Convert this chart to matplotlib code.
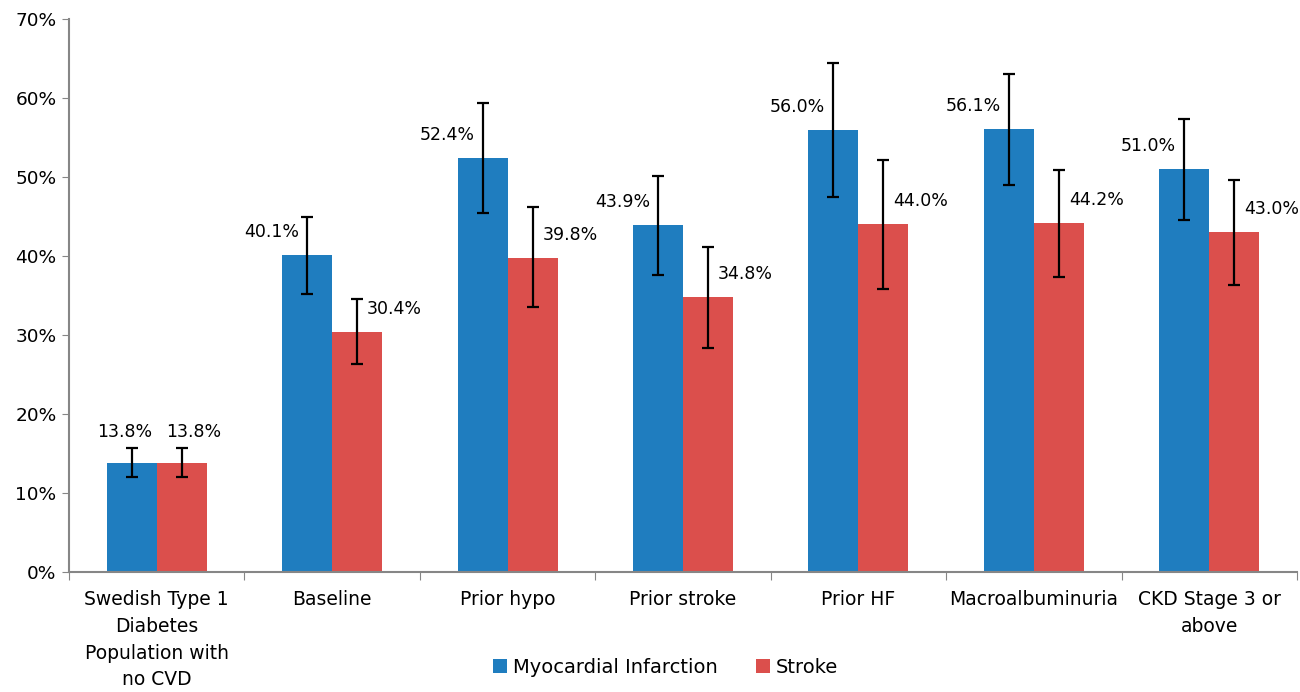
import matplotlib
matplotlib.use("Agg")
import matplotlib.pyplot as plt
import numpy as np
from matplotlib.ticker import FixedLocator, PercentFormatter

categories = ["Swedish Type 1\nDiabetes\nPopulation with\nno CVD", "Baseline", "Prior hypo",
              "Prior stroke", "Prior HF", "Macroalbuminuria", "CKD Stage 3 or\nabove"]
mi = [13.8, 40.1, 52.4, 43.9, 56.0, 56.1, 51.0]
mi_low = [12.0, 35.2, 45.4, 37.6, 47.5, 49.0, 44.5]
mi_high = [15.7, 44.9, 59.4, 50.1, 64.4, 63.0, 57.4]
stroke = [13.8, 30.4, 39.8, 34.8, 44.0, 44.2, 43.0]
stroke_low = [12.0, 26.3, 33.5, 28.3, 35.8, 37.4, 36.3]
stroke_high = [15.7, 34.6, 46.2, 41.2, 52.2, 50.9, 49.6]
series_names = ["Myocardial Infarction", "Stroke"]
yticks = [0, 10, 20, 30, 40, 50, 60, 70]

BLUE = "#1f7dbf"
RED = "#db4f4c"
GRAY = "#868686"

plt.rcParams['font.family'] = ['DejaVu Sans']

fig = plt.figure(figsize=(13, 6.92), dpi=100)
ax = fig.add_axes([0.053, 0.1734, 0.9447, 0.7991])

n = len(categories)
x = np.arange(n)
w = 0.285

mi_err = [np.array(mi) - np.array(mi_low), np.array(mi_high) - np.array(mi)]
st_err = [np.array(stroke) - np.array(stroke_low), np.array(stroke_high) - np.array(stroke)]

ax.bar(x - w / 2, mi, w, color=BLUE, label=series_names[0], zorder=2)
ax.bar(x + w / 2, stroke, w, color=RED, label=series_names[1], zorder=2)
ax.errorbar(x - w / 2, mi, yerr=mi_err, fmt='none', ecolor='black', elinewidth=1.6,
            capsize=4.0, capthick=1.6, zorder=3)
ax.errorbar(x + w / 2, stroke, yerr=st_err, fmt='none', ecolor='black', elinewidth=1.6,
            capsize=4.0, capthick=1.6, zorder=3)

fs_val = 12.5
for i in range(n):
    if i == 0:
        ax.annotate(f"{mi[i]:.1f}%", (x[i] - w / 2, mi[i]), xytext=(-7, 31),
                    textcoords='offset pixels', ha='center', va='center', fontsize=fs_val)
        ax.annotate(f"{stroke[i]:.1f}%", (x[i] + w / 2, stroke[i]), xytext=(12, 31),
                    textcoords='offset pixels', ha='center', va='center', fontsize=fs_val)
    else:
        ax.annotate(f"{mi[i]:.1f}%", (x[i] - w / 2, mi[i]), xytext=(-8, 23),
                    textcoords='offset pixels', ha='right', va='center', fontsize=fs_val)
        ax.annotate(f"{stroke[i]:.1f}%", (x[i] + w / 2, stroke[i]), xytext=(10, 23),
                    textcoords='offset pixels', ha='left', va='center', fontsize=fs_val)

ax.set_xlim(-0.5, n - 0.5)
ax.set_ylim(0, 70)
ax.set_yticks(yticks)
ax.yaxis.set_major_formatter(PercentFormatter(decimals=0))
ax.tick_params(axis='y', labelsize=13.3, length=5, color=GRAY, pad=4)

ax.xaxis.set_major_locator(FixedLocator(np.arange(n + 1) - 0.5))
ax.xaxis.set_minor_locator(FixedLocator(x))
ax.set_xticklabels([], minor=False)
ax.set_xticklabels(categories, minor=True, fontsize=13.5, linespacing=1.52)
ax.tick_params(axis='x', which='major', length=6, color=GRAY)
ax.tick_params(axis='x', which='minor', length=0, pad=13)

for s in ['top', 'right']:
    ax.spines[s].set_visible(False)
for s in ['left', 'bottom']:
    ax.spines[s].set_color(GRAY)
    ax.spines[s].set_linewidth(1.5)

leg = fig.legend(loc='center', bbox_to_anchor=(0.512, 0.036), ncol=2, frameon=False,
                 fontsize=14, handlelength=0.7, handleheight=0.7, handletextpad=0.3,
                 columnspacing=2.0)

fig.savefig("out.png", dpi=100)
